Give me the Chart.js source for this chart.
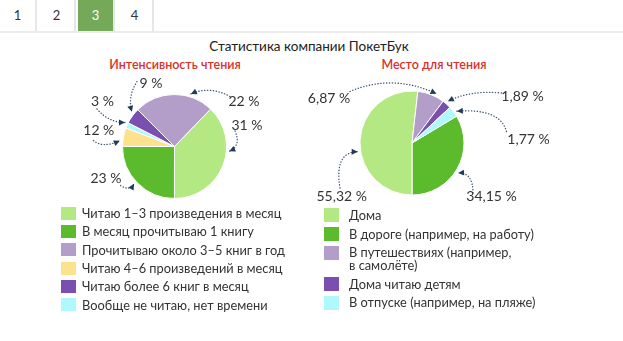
<!DOCTYPE html>
<html>
<head>
<meta charset="utf-8">
<script src="https://cdn.jsdelivr.net/npm/chart.js@4"></script>
<style>
  body { margin: 0; background: #fff; font-family: Lato, "Noto Sans", sans-serif; color: #333; }
  #page { position: relative; width: 623px; height: 341px; overflow: hidden; }
  .tabs { position: absolute; left: 0; top: 0; width: 623px; height: 31px; border-bottom: 2px solid #ececec; }
  .tab { position: absolute; top: 0; width: 37px; height: 31px; line-height: 31px; text-align: center;
         font-size: 13px; color: #333; border-right: 2px solid #e6e6e6; box-sizing: border-box; }
  .tab.active { background: #74a95a; color: #fff; }
  .title { position: absolute; top: 38px; left: 0; width: 618px; text-align: center; font-size: 13.5px; color: #222; }
  .sub { position: absolute; top: 57px; font-size: 12.5px; color: #d9302a; font-weight: 600; text-align: center; }
  .box { position: absolute; }
  .legend { position: absolute; font-size: 12.8px; color: #333; }
  .legend .row { position: relative; }
  .legend .sw { position: absolute; left: 0; }
</style>
</head>
<body>
<div id="page">
  <div class="tabs" id="tabs"></div>
  <div class="title">Статистика компании ПокетБук</div>
  <div class="sub" style="left:75px;width:200px">Интенсивность чтения</div>
  <div class="sub" style="left:334px;width:200px">Место для чтения</div>
  <div class="box" style="left:0;top:70px;width:300px;height:135px"><canvas id="chartA"></canvas></div>
  <div class="box" style="left:300px;top:70px;width:323px;height:135px"><canvas id="chartB"></canvas></div>
  <div class="legend" id="legendA" style="left:61px;top:204px"></div>
  <div class="legend" id="legendB" style="left:324px;top:206px"></div>
</div>
<script>
const tabs = ["1", "2", "3", "4"];
const activeTab = 2;

// Интенсивность чтения (legend order)
const readingCategories = [
  "Читаю 1–3 произведения в месяц",
  "В месяц прочитываю 1 книгу",
  "Прочитываю около 3–5 книг в год",
  "Читаю 4–6 произведений в месяц",
  "Читаю более 6 книг в месяц",
  "Вообще не читаю, нет времени"
];
const readingValues = [37.8, 25, 24.7, 5.8, 5, 1.7];
const readingLabels = ["31 %", "23 %", "22 %", "12 %", "9 %", "3 %"];

// Место для чтения (legend order)
const placeCategories = [
  "Дома",
  "В дороге (например, на работу)",
  "В путешествиях (например,\nв самолёте)",
  "Дома читаю детям",
  "В отпуске (например, на пляже)"
];
const placeValues = [51.8, 33.6, 8.4, 2.8, 3.4];
const placeLabels = ["55,32 %", "34,15 %", "6,87 %", "1,89 %", "1,77 %"];

// styles
const C = {
  light: "#b4e882", dark: "#5bbb2c", lilac: "#b39dc9",
  yellow: "#fde28e", purple: "#7a4fb0", cyan: "#aff8fb"
};
const readingColors = [C.light, C.dark, C.lilac, C.yellow, C.purple, C.cyan];
const placeColors = [C.light, C.dark, C.lilac, C.purple, C.cyan];

// slice order around the pie (clockwise)
const readingOrder = [0, 1, 3, 5, 4, 2];
const placeOrder = [1, 0, 2, 3, 4];

// callout placement relative to pie centre: text, line start, curve control, fraction along slice
const readingCallouts = [
  { text: [72.5, -21.5], start: [60.5, -15.5], ctrl: [67, -1], frac: 0.375 },
  { text: [-68.5, 31.8], start: [-54, 39], ctrl: [-45, 45], frac: 0.525 },
  { text: [69.5, -44.8], start: [55.5, -50], ctrl: [35, -61], frac: 0.70 },
  { text: [-75.7, -15.8], start: [-81, -6], ctrl: [-72, 2], frac: 0.28 },
  { text: [-23.5, -63.2], start: [-37.5, -65], ctrl: [-47, -50], frac: 0.67 },
  { text: [-72, -44.8], start: [-77.5, -37.5], ctrl: [-66, -24], frac: 0.8 }
];
const placeCallouts = [
  { text: [-70.3, 53.7], start: [-72, 45], ctrl: [-78, 9], frac: 0.434 },
  { text: [79.5, 53.7], start: [61, 50], ctrl: [61, 29], frac: 0.53 },
  { text: [-83, -44.7], start: [-62, -51.5], ctrl: [-19.4, -69.7], frac: 0.66 },
  { text: [110.5, -46.3], start: [89.5, -50], ctrl: [58, -53], frac: 0.4 },
  { text: [116.5, -3.7], start: [94.5, -11.5], ctrl: [88, -35], frac: 0.64 }
];

// tabs
const tabsDiv = document.getElementById("tabs");
tabs.forEach((t, i) => {
  const el = document.createElement("div");
  el.className = "tab" + (i === activeTab ? " active" : "");
  el.style.left = (i * 39) + "px";
  el.innerText = t;
  tabsDiv.appendChild(el);
});

function buildLegend(id, cats, colors, rowH, lineH, swW, swH, textX) {
  const box = document.getElementById(id);
  cats.forEach((c, i) => {
    const lines = c.split("\n");
    const row = document.createElement("div");
    row.className = "row";
    row.style.height = (rowH - lineH + lines.length * lineH) + "px";
    row.style.paddingLeft = textX + "px";
    row.style.lineHeight = lineH + "px";
    row.style.paddingTop = ((rowH - lineH) / 2) + "px";
    row.style.boxSizing = "border-box";
    row.style.whiteSpace = "nowrap";
    row.innerHTML = lines.join("<br>") +
      `<span class="sw" style="top:${(rowH - swH) / 2}px;width:${swW}px;height:${swH}px;background:${colors[i]}"></span>`;
    box.appendChild(row);
  });
}
buildLegend("legendA", readingCategories, readingColors, 18.3, 14, 15, 13, 21);
buildLegend("legendB", placeCategories, placeColors, 18.7, 12.5, 15, 14, 25);

const calloutPlugin = {
  id: "callouts",
  afterDraw(chart) {
    const cfg = chart.options.plugins.callouts;
    const meta = chart.getDatasetMeta(0);
    const ctx = chart.ctx;
    ctx.save();
    cfg.items.forEach((it, legendIdx) => {
      const arc = meta.data[cfg.order.indexOf(legendIdx)];
      const cx = arc.x, cy = arc.y;
      const a = arc.startAngle + (arc.endAngle - arc.startAngle) * it.frac;
      const R = arc.outerRadius + 3;
      const ex = cx + Math.cos(a) * R, ey = cy + Math.sin(a) * R;
      const sx = cx + it.start[0], sy = cy + it.start[1];
      const qx = cx + it.ctrl[0], qy = cy + it.ctrl[1];

      ctx.strokeStyle = "#3b5270";
      ctx.lineWidth = 1.3;
      ctx.lineCap = "round";
      ctx.setLineDash([0.3, 2.6]);
      ctx.beginPath();
      ctx.moveTo(sx, sy);
      ctx.quadraticCurveTo(qx, qy, ex, ey);
      ctx.stroke();
      ctx.setLineDash([]);

      const ang = Math.atan2(ey - qy, ex - qx);
      ctx.fillStyle = "#1f3a5a";
      ctx.beginPath();
      ctx.moveTo(ex, ey);
      ctx.lineTo(ex - Math.cos(ang) * 6 + Math.sin(ang) * 3, ey - Math.sin(ang) * 6 - Math.cos(ang) * 3);
      ctx.lineTo(ex - Math.cos(ang) * 6 - Math.sin(ang) * 3, ey - Math.sin(ang) * 6 + Math.cos(ang) * 3);
      ctx.closePath();
      ctx.fill();

      ctx.fillStyle = "#333";
      ctx.font = "14px Lato";
      ctx.textAlign = "center";
      ctx.textBaseline = "middle";
      ctx.fillText(cfg.labels[legendIdx], cx + it.text[0], cy + it.text[1]);
    });
    ctx.restore();
  }
};

function makePie(id, values, colors, order, rotation, labels, callouts, padding) {
  return new Chart(document.getElementById(id), {
    type: "pie",
    data: {
      labels: order.map(i => labels[i]),
      datasets: [{
        data: order.map(i => values[i]),
        backgroundColor: order.map(i => colors[i]),
        borderColor: "#ffffff",
        borderWidth: 1
      }]
    },
    options: {
      responsive: true,
      maintainAspectRatio: false,
      animation: false,
      events: [],
      rotation: rotation,
      radius: 52,
      layout: { padding: padding },
      plugins: {
        legend: { display: false },
        tooltip: { enabled: false },
        callouts: { items: callouts, order: order, labels: labels }
      }
    },
    plugins: [calloutPlugin]
  });
}

makePie("chartA", readingValues, readingColors, readingOrder, 44, readingLabels, readingCallouts,
  { left: 120, right: 71, top: 22, bottom: 4 });
makePie("chartB", placeValues, placeColors, placeOrder, 59, placeLabels, placeCallouts,
  { left: 57, right: 156, top: 18, bottom: 7 });
</script>
</body>
</html>
